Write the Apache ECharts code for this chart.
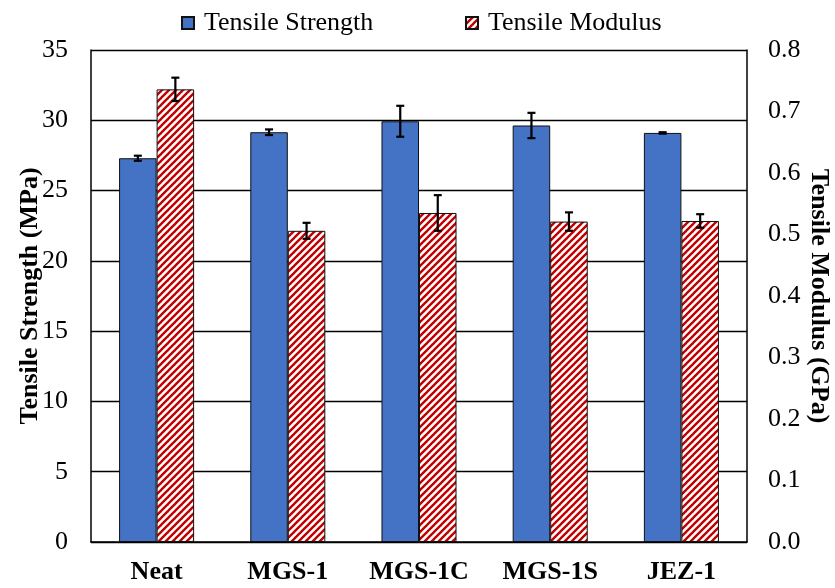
<!DOCTYPE html>
<html>
<head>
<meta charset="utf-8">
<script src="https://cdn.jsdelivr.net/npm/echarts@6/dist/echarts.min.js"></script>
<style>html,body{margin:0;padding:0;background:#fff}#c{width:835px;height:588px}</style>
</head>
<body>
<div id="c"></div>
<script>
const categories = ['Neat', 'MGS-1', 'MGS-1C', 'MGS-1S', 'JEZ-1'];
const strength = [27.3, 29.15, 29.93, 29.63, 29.1];
const strengthErr = [0.18, 0.2, 1.1, 0.9, 0.05];
const modulus = [0.736, 0.506, 0.535, 0.521, 0.522];
const modulusErr = [0.019, 0.013, 0.029, 0.015, 0.011];
const leftTicks = [0, 5, 10, 15, 20, 25, 30, 35];
const rightTicks = [0.0, 0.1, 0.2, 0.3, 0.4, 0.5, 0.6, 0.7, 0.8];

const FONT = "'Liberation Serif', 'Times New Roman', serif";
const FS = 26;
const BAR_FRAC = 0.286;

// stripe pattern
const tile = document.createElement('canvas');
tile.width = 7; tile.height = 7;
const ctx = tile.getContext('2d');
ctx.fillStyle = '#fff';
ctx.fillRect(0, 0, 7, 7);
ctx.strokeStyle = '#C00000';
ctx.lineWidth = 2.4;
ctx.lineCap = 'square';
for (let x0 = -7; x0 <= 7; x0 += 7) {
  ctx.beginPath();
  ctx.moveTo(x0, 7);
  ctx.lineTo(x0 + 7, 0);
  ctx.stroke();
}
const stripe = { image: tile, repeat: 'repeat' };

function errRenderer(sign) {
  return function (params, api) {
    const x = api.value(0), v = api.value(1), e = api.value(2);
    const band = api.size([1, 0])[0];
    const off = sign * band * BAR_FRAC / 2;
    const hi = api.coord([x, v + e]);
    const lo = api.coord([x, v - e]);
    const cx = hi[0] + off;
    const cap = 4;
    const st = { stroke: '#000', lineWidth: 2.2 };
    return {
      type: 'group',
      children: [
        { type: 'line', shape: { x1: cx, y1: hi[1], x2: cx, y2: lo[1] }, style: st },
        { type: 'line', shape: { x1: cx - cap, y1: hi[1], x2: cx + cap, y2: hi[1] }, style: st },
        { type: 'line', shape: { x1: cx - cap, y1: lo[1], x2: cx + cap, y2: lo[1] }, style: st }
      ]
    };
  };
}

const legendText = { fontFamily: FONT, fontSize: FS, color: '#000', padding: [0, 0, 0, 5] };

const chart = echarts.init(document.getElementById('c'), null, { renderer: 'canvas' });
chart.setOption({
  animation: false,
  textStyle: { fontFamily: FONT },
  legend: [
    {
      data: ['Tensile Strength'], left: 176, top: 5, itemWidth: 12, itemHeight: 12, icon: 'rect',
      textStyle: legendText
    },
    {
      data: ['Tensile Modulus'], left: 460, top: 5, itemWidth: 12, itemHeight: 12, icon: 'rect',
      textStyle: legendText
    }
  ],
  grid: { left: 91, right: 88, top: 50, bottom: 46, outerBoundsMode: 'none', containLabel: false },
  xAxis: {
    type: 'category',
    data: categories,
    axisLine: { lineStyle: { color: '#000', width: 1.5 } },
    axisTick: { show: false },
    axisLabel: { fontFamily: FONT, fontSize: FS, fontWeight: 'bold', color: '#000', margin: 17 }
  },
  yAxis: [
    {
      type: 'value', min: 0, max: 35, interval: 5,
      name: 'Tensile Strength (MPa)', nameLocation: 'middle', nameRotate: 90, nameGap: 48,
      nameMoveOverlap: false,
      nameTextStyle: { fontFamily: FONT, fontSize: FS, fontWeight: 'bold', color: '#000' },
      axisLine: { show: true, lineStyle: { color: '#000', width: 1.5 } },
      axisTick: { show: false },
      axisLabel: { fontFamily: FONT, fontSize: FS, color: '#000', margin: 23,
        formatter: v => leftTicks.includes(v) ? String(v) : '' },
      splitLine: { show: true, lineStyle: { color: '#000', width: 1.3 } }
    },
    {
      type: 'value', min: 0, max: 0.8, interval: 0.1, position: 'right',
      name: 'Tensile Modulus (GPa)', nameLocation: 'middle', nameRotate: -90, nameGap: 59,
      nameMoveOverlap: false,
      nameTextStyle: { fontFamily: FONT, fontSize: FS, fontWeight: 'bold', color: '#000' },
      axisLine: { show: true, lineStyle: { color: '#000', width: 1.5 } },
      axisTick: { show: false },
      axisLabel: { fontFamily: FONT, fontSize: FS, color: '#000', margin: 21,
        formatter: v => { const r = rightTicks.find(t => Math.abs(t - v) < 1e-6); return r === undefined ? '' : r.toFixed(1); } },
      splitLine: { show: false }
    }
  ],
  series: [
    {
      name: 'Tensile Strength', type: 'bar', yAxisIndex: 0, data: strength,
      barWidth: (BAR_FRAC * 100) + '%', barGap: '0%',
      itemStyle: { color: '#4472C4', borderColor: '#111', borderWidth: 1 }
    },
    {
      name: 'Tensile Modulus', type: 'bar', yAxisIndex: 1, data: modulus,
      barWidth: (BAR_FRAC * 100) + '%', barGap: '0%',
      itemStyle: { color: stripe, borderColor: '#111', borderWidth: 1 }
    },
    {
      type: 'custom', yAxisIndex: 0, z: 10, silent: true,
      renderItem: errRenderer(-1),
      data: strength.map((v, i) => [i, v, strengthErr[i]])
    },
    {
      type: 'custom', yAxisIndex: 1, z: 10, silent: true,
      renderItem: errRenderer(1),
      data: modulus.map((v, i) => [i, v, modulusErr[i]])
    }
  ]
});
</script>
</body>
</html>
